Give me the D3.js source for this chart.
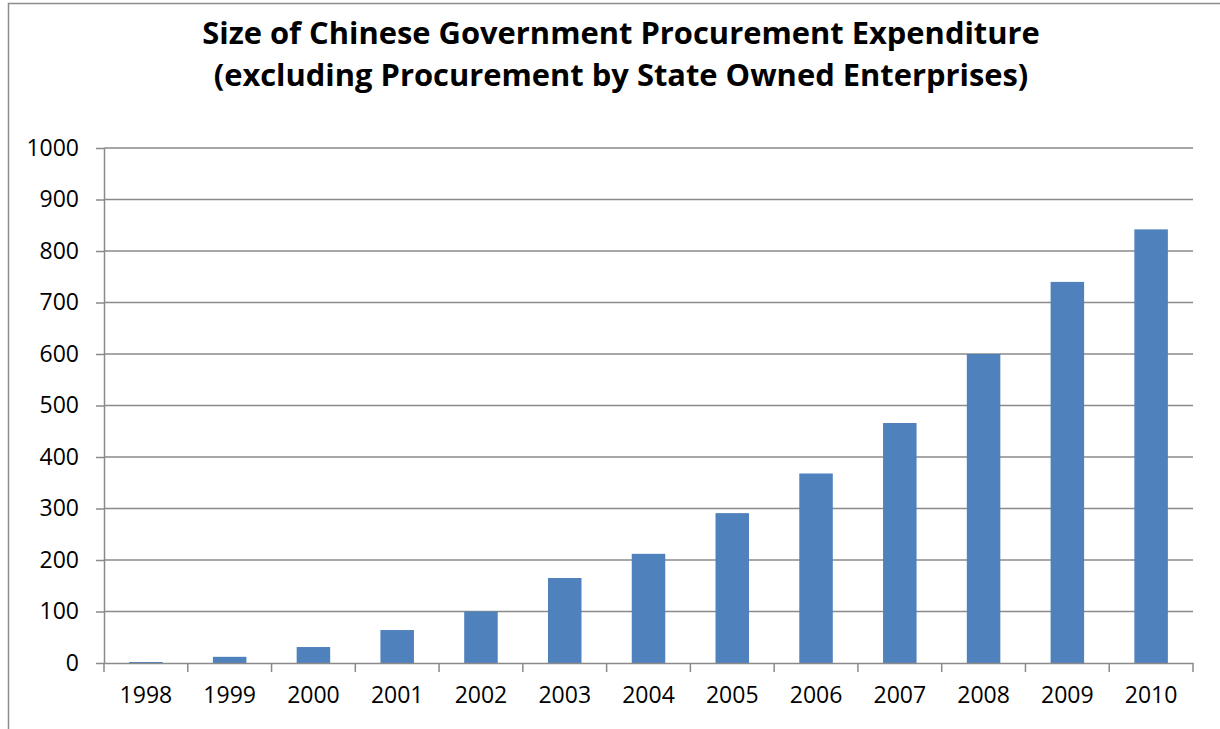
<!DOCTYPE html>
<html>
<head>
<meta charset="utf-8">
<script src="https://cdn.jsdelivr.net/npm/d3@7"></script>
<style>
  body { margin: 0; background: #fff; }
  text { font-family: "Open Sans", "Noto Sans", sans-serif; fill: #000; }
</style>
</head>
<body>
<script>
// chart data
const years = ["1998", "1999", "2000", "2001", "2002", "2003", "2004",
    "2005", "2006", "2007", "2008", "2009", "2010"];
const spending = [2, 12, 31, 64, 100, 165, 212, 291, 368, 466, 600, 740, 842];
const yTicks = [0, 100, 200, 300, 400, 500, 600, 700, 800, 900, 1000];
const titleLines = ["Size of Chinese Government Procurement Expenditure",
    "(excluding Procurement by State Owned Enterprises)"];

const width = 1220;
const height = 729;
const margin = { top: 148, right: 27, bottom: 66, left: 104 };

const svg = d3.select("body")
    .append("svg")
    .attr("width", width)
    .attr("height", height);

// outer chart frame (only top and left edges show)
svg.append("path")
    .attr("d", "M8.5," + height + " V3.5 H" + width)
    .attr("fill", "none")
    .attr("stroke", "#8c8c8c")
    .attr("stroke-width", 1.5);

const x = d3.scaleBand()
    .domain(years)
    .range([margin.left, width - margin.right])
    .paddingInner(0.6)
    .paddingOuter(0.3);

const y = d3.scaleLinear()
    .domain([0, 1000])
    .range([height - margin.bottom, margin.top]);

// gridlines
svg.append("g")
    .selectAll("line")
    .data(yTicks.slice(1))
    .enter()
    .append("line")
    .attr("x1", margin.left)
    .attr("x2", width - margin.right)
    .attr("y1", d => y(d))
    .attr("y2", d => y(d))
    .attr("stroke", "#8a8a8a")
    .attr("stroke-width", 1.5);

// bars
svg.append("g")
    .selectAll("rect")
    .data(spending)
    .enter()
    .append("rect")
    .attr("x", (d, i) => x(years[i]))
    .attr("width", x.bandwidth())
    .attr("y", d => y(d))
    .attr("height", d => y(0) - y(d))
    .attr("fill", "#4f81bd");

// y axis
const yAxis = svg.append("g")
    .attr("transform", "translate(" + margin.left + ",0)")
    .call(d3.axisLeft(y).tickValues(yTicks).tickFormat(d3.format("d"))
        .tickSize(8).tickPadding(17).tickSizeOuter(0));
yAxis.selectAll("text").style("font-size", "23px");

// x axis, ticks between categories
const xAxis = svg.append("g")
    .attr("transform", "translate(0," + y(0) + ")")
    .call(d3.axisBottom(x).tickSize(0).tickPadding(24).tickSizeOuter(0));
xAxis.selectAll("text").style("font-size", "23px");
const step = x.step();
xAxis.selectAll(".sep")
    .data(d3.range(years.length + 1))
    .enter()
    .append("line")
    .attr("class", "sep")
    .attr("x1", i => margin.left + i * step)
    .attr("x2", i => margin.left + i * step)
    .attr("y1", 0)
    .attr("y2", 9)
    .attr("stroke", "#8a8a8a")
    .attr("stroke-width", 1.5);

svg.selectAll(".domain, .tick line")
    .attr("stroke", "#8a8a8a")
    .attr("stroke-width", 1.5);

// title
const title = svg.append("g");
const targetWidths = [838, 815];
titleLines.forEach((t, i) => {
    const el = title.append("text")
        .attr("x", 621)
        .attr("y", 44 + i * 42)
        .attr("text-anchor", "middle")
        .style("font-weight", "bold")
        .style("font-size", "30px")
        .text(t);
    // shrink font to match the narrow original face
    const w = el.node().getComputedTextLength();
    el.style("font-size", (30 * targetWidths[i] / w) + "px");
});
</script>
</body>
</html>
